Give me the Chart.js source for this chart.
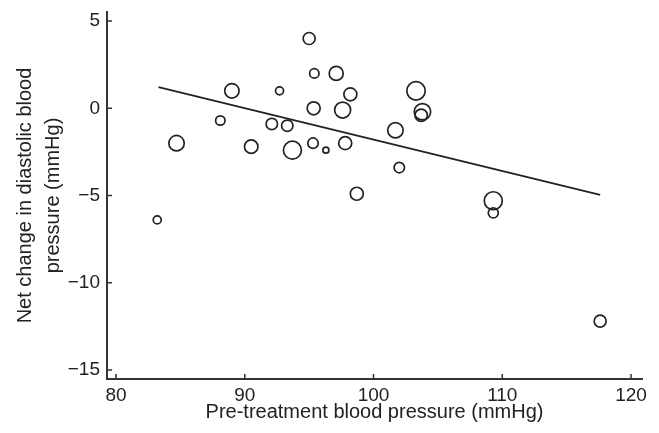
<!DOCTYPE html>
<html>
<head>
<meta charset="utf-8">
<script src="https://cdn.jsdelivr.net/npm/chart.js@4/dist/chart.umd.min.js"></script>
<style>
  html, body { margin: 0; padding: 0; background: #fff; }
</style>
</head>
<body>
<canvas id="chart" width="659" height="433"></canvas>
<script>
// pre-treatment diastolic pressure (mmHg) for each study
const pretreatment = [95.0, 95.4, 97.1, 98.2, 89.0, 92.7, 95.35, 97.6, 88.1, 92.1, 93.3, 84.7, 90.5, 93.7,
  95.3, 96.3, 97.8, 98.7, 103.3, 103.8, 103.7, 101.7, 102.0, 109.3, 109.3, 117.6, 83.2];
// net change in diastolic pressure (mmHg)
const netChange = [4.0, 2.0, 2.0, 0.8, 1.0, 1.0, 0.0, -0.1, -0.7, -0.9, -1.0, -2.0, -2.2, -2.4,
  -2.0, -2.4, -2.0, -4.9, 1.0, -0.2, -0.4, -1.26, -3.4, -5.3, -6.0, -12.2, -6.4];
// study weight, shown as bubble radius
const studyWeight = [6, 4.7, 7, 6.5, 7.2, 4, 6.5, 8, 4.7, 5.7, 5.7, 7.7, 6.7, 9,
  5.2, 3, 6.5, 6.5, 9.2, 8.2, 6.2, 7.7, 5.2, 9, 5, 6, 4];
// meta-regression line end points
const fitX = [83.3, 117.6];
const fitY = [1.22, -4.96];

const xTicks = [80, 90, 100, 110, 120];
const yTicks = [-15, -10, -5, 0, 5];

const ink = "#222";
Chart.defaults.font.family = "'Liberation Sans', Arial, Helvetica, sans-serif";
Chart.defaults.color = ink;

// tick marks point into the plot
const innerTicks = {
  id: "innerTicks",
  afterDraw(chart) {
    const { ctx, chartArea, scales } = chart;
    ctx.save();
    ctx.strokeStyle = "#333";
    ctx.lineWidth = 1.5;
    ctx.beginPath();
    xTicks.forEach(v => {
      const px = scales.x.getPixelForValue(v);
      ctx.moveTo(px, chartArea.bottom);
      ctx.lineTo(px, chartArea.bottom - 5);
    });
    yTicks.forEach(v => {
      const py = scales.y.getPixelForValue(v);
      ctx.moveTo(chartArea.left, py);
      ctx.lineTo(chartArea.left + 5, py);
    });
    ctx.stroke();
    ctx.restore();
  }
};

new Chart(document.getElementById("chart"), {
  type: "bubble",
  data: {
    datasets: [
      {
        type: "line",
        data: fitX.map((x, i) => ({ x, y: fitY[i] })),
        borderColor: ink,
        borderWidth: 1.8,
        pointRadius: 0,
        fill: false
      },
      {
        data: pretreatment.map((x, i) => ({ x, y: netChange[i], r: studyWeight[i] })),
        borderColor: ink,
        borderWidth: 1.7,
        backgroundColor: "rgba(0,0,0,0)"
      }
    ]
  },
  options: {
    responsive: false,
    animation: false,
    events: [],
    layout: { padding: { top: 12, right: 17, left: 0, bottom: 0 } },
    plugins: { legend: { display: false }, tooltip: { enabled: false } },
    scales: {
      x: {
        type: "linear",
        min: 79.3,
        max: 120.85,
        afterBuildTicks: s => { s.ticks = xTicks.map(v => ({ value: v })); },
        afterFit: s => { s.height = 54; },
        grid: { display: false, drawTicks: true, tickLength: 5 },
        border: { display: true, color: "#333", width: 2 },
        ticks: { font: { size: 19 }, padding: 0, maxRotation: 0, autoSkip: false },
        title: {
          display: true,
          text: "Pre-treatment blood pressure (mmHg)",
          font: { size: 20 },
          padding: { top: 0, bottom: 9 }
        }
      },
      y: {
        type: "linear",
        min: -15.52,
        max: 5.52,
        afterBuildTicks: s => { s.ticks = yTicks.map(v => ({ value: v })); },
        afterFit: s => { s.width = 107; },
        grid: { display: false, drawTicks: true, tickLength: 7 },
        border: { display: true, color: "#333", width: 2 },
        ticks: {
          font: { size: 19 },
          padding: 0,
          autoSkip: false,
          callback: v => (v < 0 ? "\u2212" + Math.abs(v) : String(v))
        },
        title: {
          display: true,
          text: ["Net change in diastolic blood", "pressure (mmHg)"],
          font: { size: 20, lineHeight: 1.4 },
          padding: { top: 11.5, bottom: 0 }
        }
      }
    }
  },
  plugins: [innerTicks]
});
</script>
</body>
</html>
